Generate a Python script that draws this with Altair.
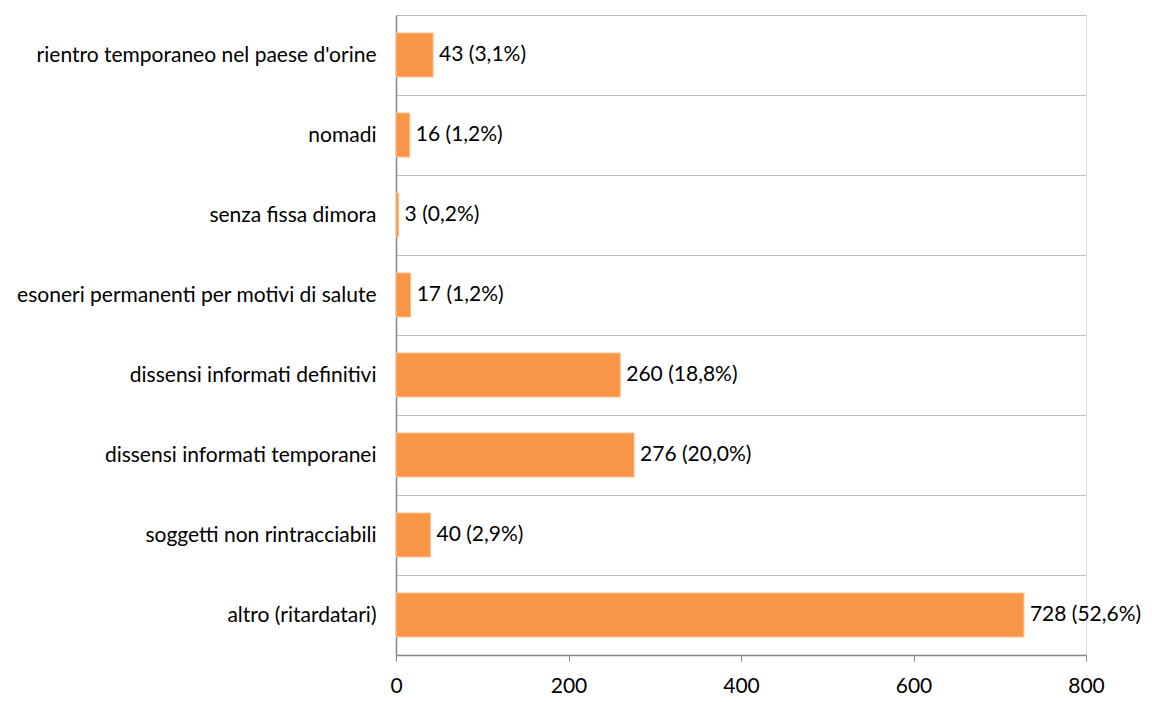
import altair as alt
import pandas as pd

categories = [
    "rientro temporaneo nel paese d'orine",
    "nomadi",
    "senza fissa dimora",
    "esoneri permanenti per motivi di salute",
    "dissensi informati definitivi",
    "dissensi informati temporanei",
    "soggetti non rintracciabili",
    "altro (ritardatari)",
]
values = [43, 16, 3, 17, 260, 276, 40, 728]
labels = ["43 (3,1%)", "16 (1,2%)", "3 (0,2%)", "17 (1,2%)", "260 (18,8%)",
          "276 (20,0%)", "40 (2,9%)", "728 (52,6%)"]

df = pd.DataFrame({"cat": categories, "val": values, "lab": labels})

FONT = "Lato"
FS = 21

y = alt.Y("cat:N", sort=categories, title=None,
          scale=alt.Scale(paddingInner=0, paddingOuter=0),
          axis=alt.Axis(grid=True, tickBand="extent", gridColor="#BFBFBF",
                        gridWidth=1, ticks=False, domainColor="#868686",
                        domainWidth=1.5, labelFont=FONT, labelFontSize=FS,
                        labelColor="#000000", labelPadding=20, labelLimit=420))
x = alt.X("val:Q", title=None,
          scale=alt.Scale(domain=[0, 800], nice=False),
          axis=alt.Axis(values=[0, 200, 400, 600, 800], grid=False,
                        domainColor="#868686", domainWidth=1.5,
                        tickColor="#868686", tickSize=6, labelFont=FONT,
                        labelFontSize=FS, labelColor="#000000", labelPadding=14,
                        labelFlush=False))

bars = alt.Chart(df).mark_bar(color="#F79646", stroke="#FBC08F",
                              strokeWidth=1,
                              height={"band": 0.55}).encode(x=x, y=y)
text = alt.Chart(df).mark_text(align="left", baseline="middle", dx=6,
                               font=FONT, fontSize=FS, color="#000000").encode(
    x="val:Q", y=alt.Y("cat:N", sort=categories), text="lab:N")

chart = (bars + text).properties(
    width=690, height=640,
    autosize=alt.AutoSizeParams(type="none"),
    padding={"left": 388, "top": 7, "right": 58, "bottom": 41},
).configure_view(stroke=None).configure(background="white")

chart.save("out.html", embed_options={"renderer": "svg", "actions": False})
